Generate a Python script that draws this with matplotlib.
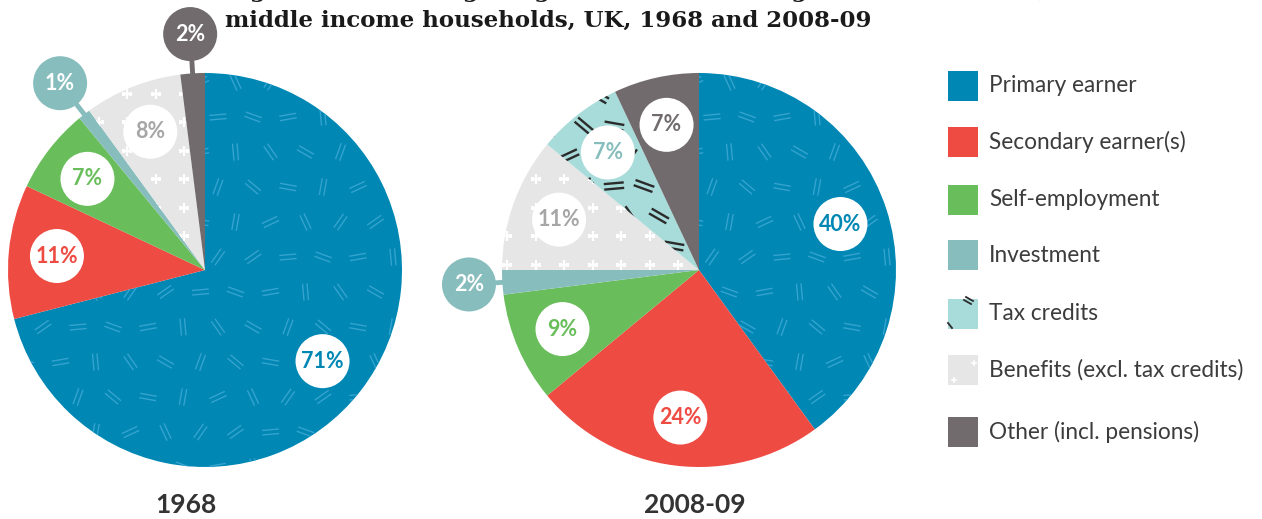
import numpy as np
import matplotlib.pyplot as plt
from matplotlib.patches import Circle, Rectangle
from matplotlib.collections import LineCollection

# data
categories = ['Primary earner', 'Secondary earner(s)', 'Self-employment', 'Investment',
              'Tax credits', 'Benefits (excl. tax credits)', 'Other (incl. pensions)']
share_1968 = [71, 11, 7, 1, 0, 8, 2]
share_2008 = [40, 24, 9, 2, 7, 11, 7]
years = ['1968', '2008-09']
# slices run clockwise from 12 o'clock in this order (benefits before tax credits)
pie_order = [0, 1, 2, 3, 5, 4, 6]
outside_1968 = [3, 6]
outside_2008 = [3]

colors = ['#0087b4', '#ee4b43', '#69be5b', '#87bdbd', '#a8dcda', '#e6e6e6', '#716b6d']
text_colors = ['#0087b4', '#ee4b43', '#69be5b', '#87bdbd', '#87bdbd', '#a6a6a6', '#716b6d']

W, H = 1262, 519
R = 197
LABEL_FONT = ['Lato', 'DejaVu Sans']
DASH_ANGLES = [25, 160, 70, 115, 10, 140, 55, 95, 170, 35, 125, 80, 5, 150]


def dash_texture(ax, clip, cx, cy, extent, step, length, gap, color, lw):
    segs = []
    for i, y in enumerate(np.arange(cy - extent, cy + extent, step)):
        off = (step / 2) * (i % 2)
        for j, x in enumerate(np.arange(cx - extent + off, cx + extent, step)):
            a = np.deg2rad(DASH_ANGLES[(i * 5 + j * 3) % len(DASH_ANGLES)])
            d = np.array([np.cos(a), np.sin(a)]) * length / 2
            n = np.array([-np.sin(a), np.cos(a)]) * gap / 2
            p = np.array([x, y])
            segs.append([p - d + n, p + d + n])
            segs.append([p - d - n, p + d - n])
    lc = LineCollection(segs, colors=color, linewidths=lw, zorder=2)
    ax.add_collection(lc)
    lc.set_clip_path(clip)


def plus_texture(ax, clip, cx, cy, extent, step):
    pts = []
    for y in np.arange(cy - extent, cy + extent, step):
        for x in np.arange(cx - extent, cx + extent, step):
            pts.append((x, y))
    pts = np.array(pts)
    ln, = ax.plot(pts[:, 0], pts[:, 1], '+', color='white', ms=7, mew=1.6, zorder=2)
    ln.set_clip_path(clip)


def draw_pie(ax, shares, center, outside, out_r):
    vals = [shares[i] for i in pie_order]
    cols = [colors[i] for i in pie_order]
    wedges, _ = ax.pie(vals, colors=cols, startangle=90, counterclock=False,
                       center=center, radius=R, frame=True,
                       wedgeprops=dict(linewidth=0))
    cx, cy = center
    for w, idx in zip(wedges, pie_order):
        if shares[idx] == 0:
            continue
        if idx == 0:
            dash_texture(ax, w, cx, cy, R, 35, 17, 4.5, '#35a3cf', 1.0)
        elif idx == 4:
            dash_texture(ax, w, cx + 7, cy + 11, R, 30, 20, 5.5, '#2b2b2b', 1.7)
        elif idx == 5:
            plus_texture(ax, w, cx + 5, cy + 3, R, 28.5)

        mid = np.deg2rad((w.theta1 + w.theta2) / 2)
        u = np.array([np.cos(mid), np.sin(mid)])
        txt = f'{shares[idx]}%'
        if idx in outside:
            pos = np.array(center) + u * R * out_r
            edge = np.array(center) + u * R * 0.97
            ax.plot([edge[0], pos[0]], [edge[1], pos[1]], color=colors[idx], lw=3.5,
                    solid_capstyle='butt', zorder=3)
            ax.add_patch(Circle(pos, 27, fc=colors[idx], ec='none', zorder=4))
            ax.text(pos[0], pos[1], txt, ha='center', va='center', color='white',
                    fontsize=15.5, fontweight='bold', family=LABEL_FONT, zorder=5)
        else:
            pos = np.array(center) + u * R * 0.755
            ax.add_patch(Circle(pos, 27, fc='white', ec='none', zorder=4))
            ax.text(pos[0], pos[1], txt, ha='center', va='center', color=text_colors[idx],
                    fontsize=15.5, fontweight='bold', family=LABEL_FONT, zorder=5)


fig = plt.figure(figsize=(W / 100, H / 100), dpi=100)
ax = fig.add_axes([0, 0, 1, 1])

draw_pie(ax, share_1968, (205, H - 270), outside_1968, 1.2)
draw_pie(ax, share_2008, (699, H - 270), outside_2008, 1.17)

ax.set_xlim(0, W)
ax.set_ylim(0, H)
ax.set_aspect('equal')
ax.axis('off')

# year captions
ax.text(186, H - 505, years[0], ha='center', va='center', fontsize=19, fontweight='bold',
        color='#333333', family=LABEL_FONT)
ax.text(695, H - 505, years[1], ha='center', va='center', fontsize=19, fontweight='bold',
        color='#333333', family=LABEL_FONT)

# title (first line runs off the top of the crop, as in the source)
ax.text(225, H + 3, 'Figure 3: Percentage of gross income coming from each source, for core',
        ha='left', va='baseline', fontsize=16.5, fontweight='bold', color='#1a1a1a',
        family='DejaVu Serif', clip_on=False)
ax.text(225, H - 27, 'middle income households, UK, 1968 and 2008-09',
        ha='left', va='baseline', fontsize=16.5, fontweight='bold', color='#1a1a1a',
        family='DejaVu Serif')

# legend
leg_y = [86, 142, 200, 255, 314, 370, 432]
for i, (name, yy) in enumerate(zip(categories, leg_y)):
    sq = Rectangle((948, H - yy - 15), 30, 30, fc=colors[i], ec='none', zorder=2)
    ax.add_patch(sq)
    ax.text(989, H - yy, name, ha='left', va='center', fontsize=16.3, color='#3c3c3c',
            family=LABEL_FONT)
# small texture hints on legend keys
ax.plot([966, 973], [H - 297, H - 301], color='#2b2b2b', lw=1.3, zorder=3)
ax.plot([964, 971], [H - 300, H - 304], color='#2b2b2b', lw=1.3, zorder=3)
ax.plot([948, 952], [H - 323, H - 328], color='#2b2b2b', lw=1.3, zorder=3)
ax.plot([972, 976], [H - 363, H - 363], color='white', lw=1.2, zorder=3)
ax.plot([974, 974], [H - 361, H - 365], color='white', lw=1.2, zorder=3)
ax.plot([952, 956], [H - 380, H - 380], color='white', lw=1.2, zorder=3)
ax.plot([954, 954], [H - 378, H - 382], color='white', lw=1.2, zorder=3)

fig.savefig('out.png', dpi=100)
